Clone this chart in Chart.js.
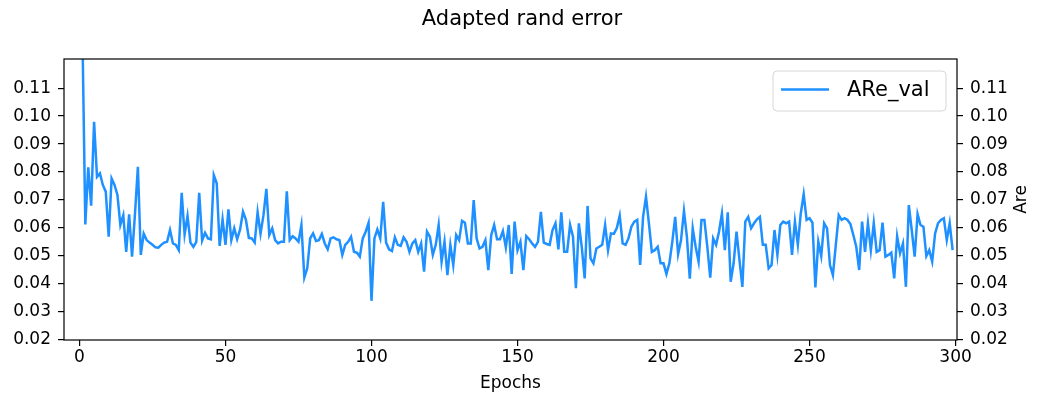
<!DOCTYPE html>
<html>
<head>
<meta charset="utf-8">
<script src="https://cdn.jsdelivr.net/npm/chart.js@4.4.0/dist/chart.umd.min.js"></script>
<style>
	html, body { margin: 0; padding: 0; background: #fff; }
</style>
</head>
<body>
<canvas id="chart" width="1038" height="399"></canvas>
<script>
	// values, epoch 1 onwards
	var areVal = [
		0.13, 0.0613, 0.0817, 0.068, 0.098, 0.0783, 0.0795, 0.0754, 0.073, 0.0569,
		0.0777, 0.0754, 0.0718, 0.0611, 0.0646, 0.0515, 0.0649, 0.0498, 0.065, 0.0819,
		0.0504, 0.058, 0.0557, 0.0548, 0.054, 0.0531, 0.053, 0.054, 0.0548, 0.0551,
		0.0593, 0.0545, 0.054, 0.0521, 0.0726, 0.0577, 0.0643, 0.0548, 0.0533, 0.0551,
		0.0726, 0.0555, 0.0583, 0.0563, 0.056, 0.0789, 0.076, 0.0536, 0.0631, 0.054,
		0.0667, 0.0557, 0.0599, 0.056, 0.0595, 0.0658, 0.0629, 0.0565, 0.0563, 0.0548,
		0.0656, 0.058, 0.0645, 0.074, 0.0575, 0.0599, 0.0557, 0.0545, 0.0551, 0.0551,
		0.0731, 0.0557, 0.0571, 0.0563, 0.0551, 0.0611, 0.0423, 0.0456, 0.0563, 0.0581,
		0.0554, 0.0557, 0.0579, 0.0545, 0.0524, 0.0563, 0.0567, 0.056, 0.0557, 0.0504,
		0.054, 0.0551, 0.0569, 0.0515, 0.0512, 0.0498, 0.0563, 0.0587, 0.0619, 0.034,
		0.0563, 0.0595, 0.0563, 0.0694, 0.0548, 0.0524, 0.0518, 0.0567, 0.054, 0.0536,
		0.0567, 0.0551, 0.0515, 0.0545, 0.0557, 0.0515, 0.0545, 0.0444, 0.0587, 0.0569,
		0.0504, 0.054, 0.0611, 0.048, 0.0551, 0.0432, 0.054, 0.0468, 0.0575, 0.0557,
		0.0626, 0.0619, 0.0545, 0.0545, 0.070, 0.0563, 0.0527, 0.0533, 0.0557, 0.045,
		0.0575, 0.0611, 0.056, 0.056, 0.0589, 0.0531, 0.0611, 0.0436, 0.0623, 0.0521,
		0.0551, 0.045, 0.0571, 0.056, 0.0545, 0.0533, 0.0551, 0.0658, 0.0548, 0.0543,
		0.054, 0.0593, 0.0617, 0.0524, 0.0656, 0.0515, 0.0515, 0.0611, 0.0569, 0.0385,
		0.0617, 0.0533, 0.042, 0.0679, 0.0492, 0.0474, 0.0527, 0.0533, 0.054, 0.0611,
		0.0521, 0.0581, 0.0579, 0.060, 0.0644, 0.0545, 0.054, 0.0563, 0.0605, 0.0623,
		0.0629, 0.0468, 0.064, 0.0712, 0.0617, 0.0515, 0.0521, 0.0533, 0.0474, 0.0474,
		0.0436, 0.0474, 0.055, 0.064, 0.0507, 0.0557, 0.0661, 0.0569, 0.0419, 0.0599,
		0.0533, 0.048, 0.0629, 0.0629, 0.0533, 0.0423, 0.0563, 0.054, 0.0587, 0.0652,
		0.0521, 0.0656, 0.0408, 0.0474, 0.0587, 0.0486, 0.039, 0.0623, 0.064, 0.0599,
		0.0617, 0.0631, 0.064, 0.054, 0.054, 0.0456, 0.0468, 0.0593, 0.0504, 0.0611,
		0.0623, 0.0617, 0.0623, 0.0504, 0.0623, 0.054, 0.0652, 0.0721, 0.0629, 0.0635,
		0.0619, 0.0388, 0.0551, 0.05, 0.0617, 0.0599, 0.0468, 0.0432, 0.054, 0.0646,
		0.0629, 0.0635, 0.0629, 0.0614, 0.0575, 0.0533, 0.045, 0.0623, 0.0515, 0.0617,
		0.0521, 0.0617, 0.0515, 0.0521, 0.0619, 0.0498, 0.0504, 0.0512, 0.042, 0.0571,
		0.051, 0.0545, 0.039, 0.0682, 0.0593, 0.0498, 0.065, 0.0611, 0.0605, 0.05,
		0.0521, 0.048, 0.0581, 0.0617, 0.0629, 0.0635, 0.0557, 0.0617, 0.0521
	];
	var epochs = areVal.map(function(v, i){ return i + 1; });
	var xTicks = [0, 50, 100, 150, 200, 250, 300];
	var yTicks = [0.02, 0.03, 0.04, 0.05, 0.06, 0.07, 0.08, 0.09, 0.10, 0.11];
	var chartTitle = 'Adapted rand error';
	var xLabel = 'Epochs';
	var rightLabel = 'Are';
	var seriesName = 'ARe_val';

	var FONT = 'DejaVu Sans';
	var LINE = '#1e90ff';

	// title, right axis label, frame and legend box like matplotlib draws them
	var extras = {
		id: 'extras',
		afterDraw: function(chart) {
			var ctx = chart.ctx, a = chart.chartArea;
			ctx.save();
			ctx.strokeStyle = '#000';
			ctx.lineWidth = 1.2;
			ctx.strokeRect(a.left, a.top, a.right - a.left, a.bottom - a.top);

			ctx.fillStyle = '#000';
			ctx.textAlign = 'center';
			ctx.textBaseline = 'middle';
			ctx.font = '21px "' + FONT + '"';
			ctx.fillText(chartTitle, 522, 20);

			ctx.save();
			ctx.translate(1022, (a.top + a.bottom) / 2);
			ctx.rotate(-Math.PI / 2);
			ctx.font = '17px "' + FONT + '"';
			ctx.fillText(rightLabel, 0, 0);
			ctx.restore();

			// legend
			var x0 = 773, y0 = 71, w = 173, h = 40, r = 4;
			ctx.beginPath();
			ctx.moveTo(x0 + r, y0);
			ctx.lineTo(x0 + w - r, y0);
			ctx.arcTo(x0 + w, y0, x0 + w, y0 + r, r);
			ctx.lineTo(x0 + w, y0 + h - r);
			ctx.arcTo(x0 + w, y0 + h, x0 + w - r, y0 + h, r);
			ctx.lineTo(x0 + r, y0 + h);
			ctx.arcTo(x0, y0 + h, x0, y0 + h - r, r);
			ctx.lineTo(x0, y0 + r);
			ctx.arcTo(x0, y0, x0 + r, y0, r);
			ctx.closePath();
			ctx.fillStyle = 'rgba(255,255,255,0.8)';
			ctx.fill();
			ctx.strokeStyle = '#d6d6d6';
			ctx.lineWidth = 1;
			ctx.stroke();

			ctx.strokeStyle = LINE;
			ctx.lineWidth = 2.5;
			ctx.beginPath();
			ctx.moveTo(781, 89.5);
			ctx.lineTo(829, 89.5);
			ctx.stroke();

			ctx.fillStyle = '#000';
			ctx.textAlign = 'left';
			ctx.font = '21px "' + FONT + '"';
			ctx.fillText(chart.data.datasets[0].label, 847, 91);
			ctx.restore();
		}
	};

	var tickGrid = { display: true, drawOnChartArea: false, drawTicks: true, tickLength: 6, color: '#000', lineWidth: 1.2 };
	var tickFont = { family: FONT, size: 17 };

	var myChart = new Chart(document.getElementById('chart'), {
		type: 'line',
		data: {
			datasets: [{
				label: seriesName,
				data: epochs.map(function(e, i){ return { x: e, y: areVal[i] }; }),
				borderColor: LINE,
				borderWidth: 2.5,
				pointRadius: 0,
				tension: 0,
				fill: false,
				clip: 0,
				yAxisID: 'y'
			}]
		},
		options: {
			responsive: false,
			animation: false,
			devicePixelRatio: 1,
			layout: { padding: { top: 59, left: 0, right: 0, bottom: 0 } },
			plugins: {
				legend: { display: false },
				title: { display: false },
				tooltip: { enabled: false }
			},
			scales: {
				x: {
					type: 'linear',
					min: -5.3,
					max: 300.5,
					afterBuildTicks: function(s){ s.ticks = xTicks.map(function(v){ return { value: v }; }); },
					afterFit: function(s){ s.height = 59; },
					grid: tickGrid,
					border: { display: false },
					ticks: { font: tickFont, color: '#000', padding: 1, maxRotation: 0, autoSkip: false,
						callback: function(v){ return String(v); } },
					title: { display: true, text: xLabel, color: '#000', font: tickFont, padding: { top: 0, bottom: 5 } }
				},
				y: {
					position: 'left',
					min: 0.02,
					max: 0.1204,
					afterBuildTicks: function(s){ s.ticks = yTicks.map(function(v){ return { value: v }; }); },
					afterFit: function(s){ s.width = 64; },
					grid: tickGrid,
					border: { display: false },
					ticks: { font: tickFont, color: '#000', padding: 7, autoSkip: false,
						callback: function(v){ return v.toFixed(2); } }
				},
				y2: {
					position: 'right',
					min: 0.02,
					max: 0.1204,
					afterBuildTicks: function(s){ s.ticks = yTicks.map(function(v){ return { value: v }; }); },
					afterFit: function(s){ s.width = 81; },
					grid: tickGrid,
					border: { display: false },
					ticks: { font: tickFont, color: '#000', padding: 7, autoSkip: false,
						callback: function(v){ return v.toFixed(2); } }
				}
			}
		},
		plugins: [extras]
	});
</script>
</body>
</html>
